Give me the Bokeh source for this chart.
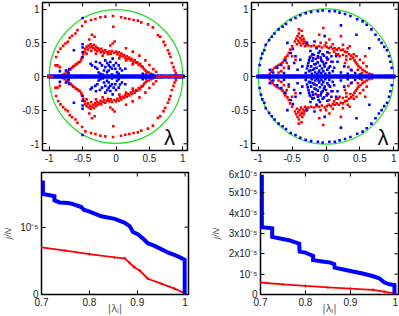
import numpy as np
from bokeh.plotting import figure
from bokeh.layouts import column, row
from bokeh.models import Range1d, FixedTicker, Label
from bokeh.embed import file_html
from bokeh.resources import INLINE

FONT = "Liberation Sans"
RED = "#ff0000"
BLUE = "#0000ff"
GREEN = "#22dd22"

# ---------------- data ----------------
scatter_ticks = [-1, -0.5, 0, 0.5, 1]
scatter_tick_labels = ["-1", "-0.5", "0", "0.5", "1"]
circle_center = [0.0]
circle_radius = [1.0]

# top-left: red eigenvalues (upper half, conjugates mirrored)
tl_red_x = [-0.373, -0.308, -0.234, -0.159, -0.045, 0.075, 0.139, 0.199, 0.264, 0.328, 0.378, 0.478,
            0.552, 0.627, 0.662, 0.711, 0.736, 0.776, 0.796, 0.816, 0.836, 0.861, 0.876, 0.896,
            -0.458, -0.507, -0.577, -0.607, -0.657, -0.692, -0.721, -0.756, -0.791, -0.831, -0.866,
            -0.896, -0.905, -0.876, -0.841,
            -0.80, -0.77, -0.74, -0.72, -0.70, -0.68, -0.66, -0.64, -0.62, -0.60, -0.58, -0.56, -0.54,
            -0.52, -0.51,
            -0.49, -0.47, -0.46, -0.44, -0.42, -0.41, -0.39, -0.38, -0.37, -0.36, -0.34, -0.33, -0.31,
            -0.30, -0.28, -0.27, -0.25, -0.23, -0.22, -0.20, -0.18, -0.16, -0.14, -0.12, -0.10, -0.08,
            -0.085, -0.05, -0.02, -0.06, -0.03, 0.00, 0.02, 0.04, 0.06, 0.08, 0.10, 0.12, 0.14, 0.16,
            0.18, 0.20, 0.22, 0.24, 0.26, 0.28, 0.30, 0.32, 0.34, 0.36, 0.38, 0.40, 0.42, 0.44, 0.46,
            0.49, 0.52, 0.55,
            -0.44, -0.30, -0.20, 0.05, 0.15, 0.25,
            0.15, 0.25, 0.35, 0.44, 0.50, 0.56, 0.60,
            -0.36, -0.32, -0.40, -0.04]
tl_red_y = [0.84, 0.855, 0.88, 0.89, 0.90, 0.88, 0.865, 0.855, 0.84, 0.83, 0.805, 0.775,
            0.73, 0.615, 0.59, 0.515, 0.465, 0.39, 0.34, 0.29, 0.20, 0.14, 0.09, 0.05,
            0.815, 0.75, 0.69, 0.64, 0.605, 0.575, 0.515, 0.49, 0.455, 0.415, 0.365,
            0.29, 0.165, 0.165, 0.14,
            0.02, 0.04, 0.06, 0.08, 0.10, 0.11, 0.13, 0.15, 0.16, 0.18, 0.19, 0.21, 0.22,
            0.25, 0.28,
            0.33, 0.37, 0.41, 0.44, 0.40, 0.46, 0.43, 0.48, 0.38, 0.45, 0.42, 0.47, 0.40,
            0.44, 0.38, 0.42, 0.40, 0.36, 0.41, 0.38, 0.35, 0.39, 0.36, 0.33, 0.37, 0.34,
            0.46, 0.49, 0.52, 0.38, 0.35, 0.37, 0.33, 0.36, 0.31, 0.34, 0.30, 0.32, 0.28, 0.30,
            0.26, 0.28, 0.24, 0.26, 0.22, 0.24, 0.20, 0.21, 0.17, 0.19, 0.15, 0.14, 0.11, 0.09, 0.07,
            0.06, 0.04, 0.03,
            0.34, 0.34, 0.31, 0.27, 0.24, 0.18,
            0.42, 0.37, 0.31, 0.24, 0.17, 0.11, 0.07,
            0.62, 0.59, 0.55, 0.74]
tl_red_real = [-1.00, -0.98, -0.96, 0.62, 0.66, 0.70, 0.73, 0.76, 0.80, 0.83, 0.86, 0.89, 0.92, 0.95, 0.98]

tl_blue_x = [-0.50, -0.50, -0.50, -0.50, -0.50, -0.63, -0.70, -0.71, -0.84, -0.75,
             -0.38, -0.36, -0.31, -0.28, -0.21, -0.16, -0.11, -0.085, -0.06, -0.035, -0.01, 0.015,
             -0.134, -0.18, -0.234, -0.11, 0.04, 0.09, 0.14, -0.085, -0.16, -0.05, 0.04, -0.26,
             -0.20, -0.06, 0.00, 0.06, -0.13, -0.30, -0.24, 0.40, 0.45]
tl_blue_y = [0.87, 0.48, 0.43, 0.36, 0.29, 0.39, 0.11, 0.05, 0.08, 0.09,
             0.19, 0.165, 0.14, 0.115, 0.165, 0.14, 0.165, 0.14, 0.115, 0.165, 0.115, 0.065,
             0.065, 0.09, 0.04, 0.09, 0.04, 0.09, 0.115, 0.215, 0.24, 0.265, 0.165, 0.06,
             0.03, 0.03, 0.20, 0.12, 0.20, 0.22, 0.20, 0.04, 0.03]
tl_blue_real = [-1.00, -0.97, -0.94, -0.91, -0.88, -0.85, -0.83, -0.80, -0.77, -0.74, -0.71, -0.70,
                -0.67, -0.64, -0.61, -0.58, -0.55, -0.52, -0.50, -0.47, -0.44, -0.41, -0.38, -0.35,
                -0.32, -0.29, -0.26, -0.23, -0.20, -0.17, -0.14, -0.11, -0.08, -0.05, -0.02, 0.01,
                0.04, 0.07, 0.10, 0.13, 0.16, 0.19, 0.22, 0.25, 0.28, 0.31, 0.34, 0.37, 0.40, 0.43,
                0.46, 0.49, 0.52, 0.55, 0.58, 0.61, 0.64, 0.67, 0.70, 0.74, 0.78, 0.81, 0.85, 0.88,
                0.91, 0.94, 0.97, 1.00]

# top-right
tr_red_x = [-0.46, -0.44, -0.43, -0.42, -0.41, -0.40, -0.39, -0.38, -0.37, -0.36, -0.35, -0.34,
            -0.33, -0.32, -0.31, -0.30, -0.29, -0.40, -0.36,
            -0.50, -0.53, -0.55, -0.57, -0.60, -0.62, -0.64, -0.67, -0.70, -0.73, -0.76, -0.79,
            -0.81, -0.83, -0.58, -0.62, -0.66, -0.55, -0.70, -0.50, -0.45,
            -0.26, -0.22, -0.18, -0.14, -0.10, -0.06, -0.02, 0.01, 0.04, 0.07, 0.10, 0.13, 0.16,
            0.19, 0.22, 0.25, 0.28, 0.31, 0.34, 0.37, 0.40, 0.42, 0.44, 0.46, 0.48, 0.51, 0.54,
            0.57, 0.60, 0.64, 0.68,
            -0.22, -0.12, 0.02, 0.10, 0.20, 0.28, 0.33, 0.38, 0.30, 0.15,
            -0.04, 0.22, 0.05, -0.10, 0.35,
            0.05, 0.12, 0.18, 0.25, 0.30, 0.36, 0.41, 0.45, 0.50, 0.55, 0.60, 0.47, 0.53, 0.58,
            0.25, 0.32, 0.10, 0.00, -0.08]
tr_red_y = [0.52, 0.56, 0.48, 0.60, 0.53, 0.64, 0.50, 0.57, 0.46, 0.54, 0.60, 0.49,
            0.56, 0.52, 0.45, 0.50, 0.47, 0.70, 0.68,
            0.45, 0.40, 0.35, 0.31, 0.28, 0.25, 0.21, 0.19, 0.17, 0.15, 0.13, 0.10,
            0.07, 0.04, 0.20, 0.13, 0.08, 0.15, 0.06, 0.30, 0.25,
            0.46, 0.45, 0.46, 0.44, 0.45, 0.43, 0.46, 0.44, 0.42, 0.44, 0.41, 0.42, 0.40,
            0.42, 0.39, 0.40, 0.37, 0.36, 0.33, 0.31, 0.28, 0.24, 0.21, 0.18, 0.15, 0.13, 0.10,
            0.08, 0.06, 0.04, 0.03,
            0.30, 0.28, 0.25, 0.22, 0.30, 0.20, 0.14, 0.09, 0.25, 0.33,
            0.72, 0.60, 0.55, 0.62, 0.45,
            0.35, 0.37, 0.33, 0.32, 0.30, 0.26, 0.33, 0.30, 0.25, 0.20, 0.15, 0.10, 0.05, 0.30,
            0.47, 0.42, 0.48, 0.50, 0.50]

tr_blue_x = [-0.98, -0.96, -0.94, -0.91, -0.89, -0.84, -0.80, -0.76, -0.70, -0.64, -0.59, -0.52,
             -0.45, -0.38, -0.30, -0.22, -0.12, -0.05, 0.05, 0.13, 0.20, 0.28, 0.36, 0.46, 0.54,
             0.60, 0.67, 0.73, 0.78, 0.82, 0.86, 0.90, 0.93, 0.95, 0.97,
             -0.30, -0.28, -0.26, -0.25, -0.24, -0.22, -0.21, -0.20, -0.19, -0.18, -0.17, -0.16,
             -0.15, -0.14, -0.13, -0.12, -0.11, -0.10, -0.09, -0.08, -0.07, -0.06, -0.05, -0.04,
             -0.03, -0.02, -0.01, 0.00, 0.02, 0.03, 0.05, 0.06, 0.08, 0.10, 0.12, -0.23, -0.14,
             -0.35, -0.38, -0.42, -0.45, -0.47, -0.52, -0.55, -0.60, -0.62, -0.66, -0.72, -0.78,
             -0.83, -0.57, -0.49, -0.28, -0.17, 0.02, 0.17, 0.22, 0.27, 0.32, 0.37, 0.43, 0.50,
             0.22, 0.64, 0.45, -0.02, 0.15,
             -0.27, -0.23, -0.19, -0.15, -0.11, -0.07, -0.03, 0.01, 0.04, -0.12, -0.20, -0.09,
             -0.25, -0.17, -0.05, 0.08]
tr_blue_y = [0.17, 0.27, 0.34, 0.39, 0.47, 0.54, 0.59, 0.64, 0.70, 0.74, 0.78, 0.84,
             0.87, 0.91, 0.94, 0.96, 0.97, 0.98, 0.97, 0.97, 0.95, 0.93, 0.90, 0.85, 0.82,
             0.77, 0.70, 0.62, 0.55, 0.50, 0.44, 0.39, 0.30, 0.22, 0.13,
             0.05, 0.12, 0.20, 0.08, 0.28, 0.15, 0.04, 0.23, 0.10, 0.32, 0.18, 0.06,
             0.26, 0.13, 0.03, 0.21, 0.35, 0.09, 0.16, 0.28, 0.05, 0.12, 0.22, 0.08,
             0.31, 0.15, 0.04, 0.20, 0.10, 0.26, 0.05, 0.15, 0.22, 0.08, 0.13, 0.38, 0.42,
             0.15, 0.25, 0.10, 0.30, 0.20, 0.35, 0.12, 0.24, 0.05, 0.17, 0.13, 0.06,
             0.10, 0.50, 0.41, 0.50, 0.52, 0.36, 0.22, 0.06, 0.15, 0.04, 0.10, 0.05, 0.03,
             0.76, 0.42, 0.62, 0.60, 0.30,
             0.16, 0.09, 0.27, 0.19, 0.06, 0.24, 0.18, 0.28, 0.13, 0.30, 0.33, 0.38,
             0.24, 0.12, 0.33, 0.30]
tr_blue_real = tl_blue_real

# bottom panels (j/N in units of 1e-5)
bottom_xticks = [0.7, 0.8, 0.9, 1.0]
bottom_xtick_labels = ["0.7", "0.8", "0.9", "1"]
bl_yticks = [0, 1]
bl_ytick_labels = ["0", "10\u207b\u2075"]
br_yticks = [0, 1, 2, 3, 4, 5, 6]
br_ytick_labels = ["0", "10\u207b\u2075", "2x10\u207b\u2075", "3x10\u207b\u2075", "4x10\u207b\u2075",
                   "5x10\u207b\u2075", "6x10\u207b\u2075"]
x_axis_label = "|\u03bb\u2c7c|"
y_axis_label = "j/N"

bl_blue_x = [0.703, 0.703, 0.727, 0.727, 0.738, 0.756, 0.766, 0.783, 0.788, 0.799, 0.825, 0.853,
             0.874, 0.884, 0.891, 0.901, 0.912, 0.922, 0.936, 0.950, 0.964, 0.985, 0.999, 0.999]
bl_blue_y = [1.69, 1.49, 1.46, 1.395, 1.366, 1.356, 1.341, 1.298, 1.259, 1.234, 1.161, 1.122,
             1.063, 1.015, 0.927, 0.893, 0.829, 0.761, 0.722, 0.673, 0.624, 0.566, 0.517, 0.0]
bl_red_x = [0.700, 0.750, 0.800, 0.853, 0.874, 0.884, 0.894, 0.905, 0.922, 0.950, 0.978, 1.000]
bl_red_y = [0.698, 0.65, 0.60, 0.55, 0.537, 0.468, 0.405, 0.356, 0.234, 0.161, 0.088, 0.015]

br_blue_x = [0.703, 0.703, 0.726, 0.726, 0.763, 0.786, 0.787, 0.800, 0.808, 0.817, 0.817, 0.838,
             0.856, 0.864, 0.865, 0.882, 0.905, 0.927, 0.949, 0.964, 0.976, 0.987, 0.998, 0.998]
br_blue_y = [5.89, 3.31, 3.26, 2.83, 2.67, 2.50, 2.11, 2.06, 1.98, 1.90, 1.69, 1.62,
             1.57, 1.49, 1.32, 1.24, 1.13, 1.03, 0.91, 0.80, 0.59, 0.50, 0.47, 0.0]
br_red_x = [0.700, 0.750, 0.800, 0.850, 0.900, 0.950, 0.975, 0.995, 1.000]
br_red_y = [0.59, 0.50, 0.42, 0.35, 0.29, 0.23, 0.14, 0.05, 0.0]


# ---------------- helpers ----------------
def style(p, xticks, xlabels, yticks, ylabels, xr, yr):
    p.toolbar_location = None
    p.grid.visible = False
    p.outline_line_color = "black"
    p.outline_line_width = 1.5
    p.background_fill_color = "white"
    p.border_fill_color = "white"
    for ax, ticks, labels in ((p.xaxis[0], xticks, xlabels), (p.yaxis[0], yticks, ylabels)):
        ax.ticker = FixedTicker(ticks=ticks)
        ax.major_label_overrides = {t: l for t, l in zip(ticks, labels)}
        ax.major_tick_in = 4
        ax.major_tick_out = 0
        ax.minor_tick_line_color = None
        ax.axis_line_color = None
        ax.major_label_text_font = FONT
        ax.major_label_text_font_size = "10px"
        ax.major_label_text_color = "#222222"
        ax.major_label_standoff = 3
    # mirrored tick marks on the top and right edges (half of each dash is clipped by the frame)
    p.scatter(xticks, [yr[1]] * len(xticks), marker="dash", angle=np.pi / 2, size=8,
              line_color="black", line_width=1)
    p.scatter([xr[1]] * len(yticks), yticks, marker="dash", size=8,
              line_color="black", line_width=1)


def scatter_panel(width, bl, br, red_x, red_y, red_real, blue_x, blue_y, blue_real, lam_x, lam_y, red_on_top):
    xr, yr = (-1.1, 1.07), (-1.1, 1.1)
    p = figure(width=width, height=168, output_backend="svg", toolbar_location=None,
               x_range=Range1d(*xr), y_range=Range1d(*yr),
               min_border_left=bl, min_border_right=br, min_border_top=2, min_border_bottom=18)
    style(p, scatter_ticks, scatter_tick_labels, scatter_ticks, scatter_tick_labels, xr, yr)
    p.circle(x=circle_center, y=circle_center, radius=circle_radius, fill_color=None,
             line_color=GREEN, line_width=1.2)
    rx = np.array(red_x); ry = np.array(red_y)
    bx = np.array(blue_x); by = np.array(blue_y)
    p.scatter(np.concatenate([rx, rx]), np.concatenate([ry, -ry]), marker="square", size=2.6,
              color=RED, line_width=0)
    p.scatter(np.concatenate([bx, bx]), np.concatenate([by, -by]), marker="square", size=2.6,
              color=BLUE, line_width=0)
    p.scatter(blue_real, [0.0] * len(blue_real), marker="square", size=4.2, color=BLUE, line_width=0)
    if red_on_top:
        p.scatter(red_real, [0.0] * len(red_real), marker="square", size=3, color=RED, line_width=0)
    p.add_layout(Label(x=lam_x, y=lam_y, text="\u03bb", text_font=FONT, text_font_size="22px",
                       text_align="center", text_baseline="middle", text_color="#111111"))
    return p


def line_panel(width, bl, br, bb, ymax, yticks, ylabels, bx, by, rx, ry, ylab_standoff):
    xr, yr = (0.7, 1.007), (0, ymax)
    p = figure(width=width, height=148, output_backend="svg", toolbar_location=None,
               x_range=Range1d(*xr), y_range=Range1d(*yr),
               min_border_left=bl, min_border_right=br, min_border_top=4, min_border_bottom=bb)
    style(p, bottom_xticks, bottom_xtick_labels, yticks, ylabels, xr, yr)
    p.line(rx, ry, line_color=RED, line_width=1.8)
    p.scatter(rx, ry, marker="cross", size=3, line_color=RED, line_width=1)
    p.line(bx, by, line_color=BLUE, line_width=4, line_join="miter")
    p.yaxis.axis_label = y_axis_label
    p.yaxis.axis_label_text_font = FONT
    p.yaxis.axis_label_text_font_size = "9px"
    p.yaxis.axis_label_text_font_style = "italic"
    p.yaxis.axis_label_text_color = "#555555"
    p.yaxis.axis_label_standoff = ylab_standoff
    p.xaxis.axis_label = x_axis_label
    p.xaxis.axis_label_text_font = "DejaVu Sans"
    p.xaxis.axis_label_text_font_size = "10px"
    p.xaxis.axis_label_text_font_style = "normal"
    p.xaxis.axis_label_text_color = "#555555"
    p.xaxis.axis_label_standoff = -6
    return p


p1 = scatter_panel(200, 42, 13, tl_red_x, tl_red_y, tl_red_real, tl_blue_x, tl_blue_y, tl_blue_real,
                   0.8, -0.9, True)
p2 = scatter_panel(199, 51, 1, tr_red_x, tr_red_y, [], tr_blue_x, tr_blue_y, tr_blue_real,
                   0.84, -0.91, False)
p3 = line_panel(200, 40, 12, 21, 1.81, bl_yticks, bl_ytick_labels, bl_blue_x, bl_blue_y,
                bl_red_x, bl_red_y, 4)
p4 = line_panel(199, 60, 1, 22, 6.0, br_yticks, br_ytick_labels, br_blue_x, br_blue_y,
                br_red_x, br_red_y, 5)

layout = column(row(p1, p2, spacing=0), row(p3, p4, spacing=0), spacing=0)

open("out.html", "w").write(file_html(layout, INLINE))
